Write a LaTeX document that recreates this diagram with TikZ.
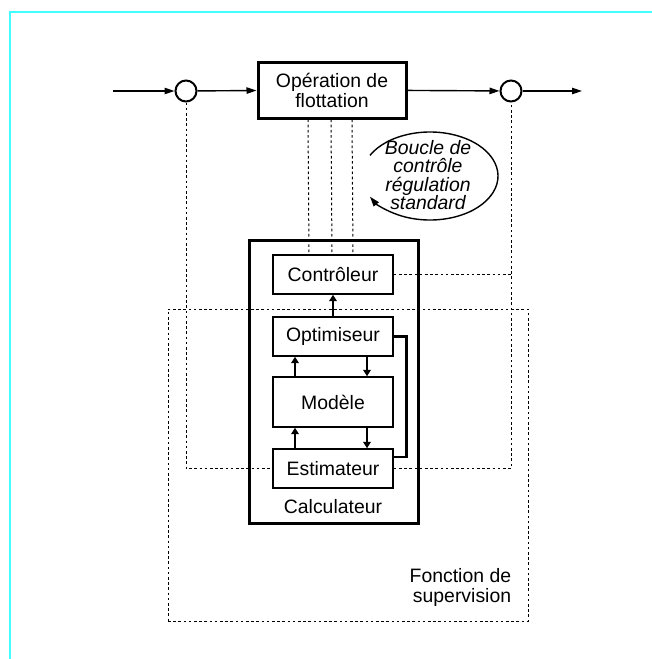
\documentclass[tikz,border=0pt]{standalone}
\usepackage{fontspec}
\setmainfont{Liberation Sans}
\usetikzlibrary{arrows.meta}
\definecolor{framecyan}{RGB}{64,255,255}
\begin{document}
\begin{tikzpicture}[x=0.5pt, y=-0.5pt,
  every node/.style={font=\fontsize{9.7}{10}\selectfont},
  mainbox/.style={draw, line width=1.5pt, align=center, inner sep=0pt},
  innerbox/.style={draw, line width=0.75pt, minimum width=60pt, minimum height=19.5pt, inner sep=0pt},
  sum/.style={draw, circle, line width=1pt, minimum size=10.5pt, inner sep=0pt},
  flow/.style={line width=0.7pt, -{Triangle[length=5pt,width=3.2pt]}},
  updown/.style={line width=1.4pt, -{Triangle[length=3.2pt,width=3.8pt]}},
  link/.style={line width=1.3pt},
  signal/.style={line width=0.5pt, dash pattern=on 1.3pt off 1.3pt},
  label/.style={inner sep=0pt, align=center}]
\useasboundingbox (0,0) rectangle (652,659);
\draw[framecyan, line width=1pt] (652,12) -- (10,12) -- (10,659);

% process line
\coordinate (in) at (113,91);
\coordinate (out) at (582,91);
\node (s1) at (186,91) [sum] {};
\node (flot) at (332,90) [mainbox, minimum width=74pt, minimum height=28pt] {Opération de\\flottation};
\node (s2) at (511,91) [sum] {};

\draw[flow] (in) to (s1);
\draw[flow] (s1) to (flot);
\draw[flow] (flot) to (s2);
\draw[flow] (s2) to (out);

% computer
\node (calc) at (333.5,381.5) [draw, line width=1.5pt, minimum width=84.5pt, minimum height=141.5pt, inner sep=0pt] {};
\node (calclabel) at (333,507) [label] {Calculateur};
\node (ctrl) at (333,274.5) [innerbox] {Contrôleur};
\node (optim) at (333,336.5) [innerbox] {Optimiseur};
\node (model) at (333,402) [innerbox, minimum height=25pt] {Modèle};
\node (estim) at (333,468.5) [innerbox] {Estimateur};

\draw[updown] (optim) to (ctrl);
\draw[updown] ([xshift=-19pt]model.north) to ([xshift=-19pt]optim.south);
\draw[updown] ([xshift=17pt]optim.south) to ([xshift=17pt]model.north);
\draw[updown] ([xshift=-19pt]estim.north) to ([xshift=-19pt]model.south);
\draw[updown] ([xshift=17pt]model.south) to ([xshift=17pt]estim.north);
\draw[link] (optim.east) -- ++(13,0) |- ([yshift=5.75pt]estim.east);

% measures and set points
\foreach \dx in {-12pt,-0.5pt,10pt}
  \draw[signal] ([xshift=\dx]flot.south) -- ([xshift=\dx]ctrl.north);
\draw[signal] (s1.south) |- (estim.west);
\draw[signal] (estim.east) -| (s2.south);
\draw[signal] (ctrl.east) -- (ctrl.east -| s2.south);

% supervision
\node (superv) at (348,465) [signal, draw, minimum width=180pt, minimum height=156pt, inner sep=0pt] {};
\node (supervlabel) [label, align=right, anchor=south east] at ([xshift=-8.5pt,yshift=7.5pt]superv.south east) {Fonction de\\supervision};

% standard loop
\node (loop) at (428,175) [label, font=\fontsize{9.7}{9.3}\selectfont\itshape] {Boucle de\\contrôle\\régulation\\standard};
\draw[line width=0.7pt, -{Triangle[length=5pt,width=3.2pt]}] (430,176) ++(208:68 and 44) arc[start angle=208, end angle=512, x radius=68, y radius=44];
\end{tikzpicture}
\end{document}
